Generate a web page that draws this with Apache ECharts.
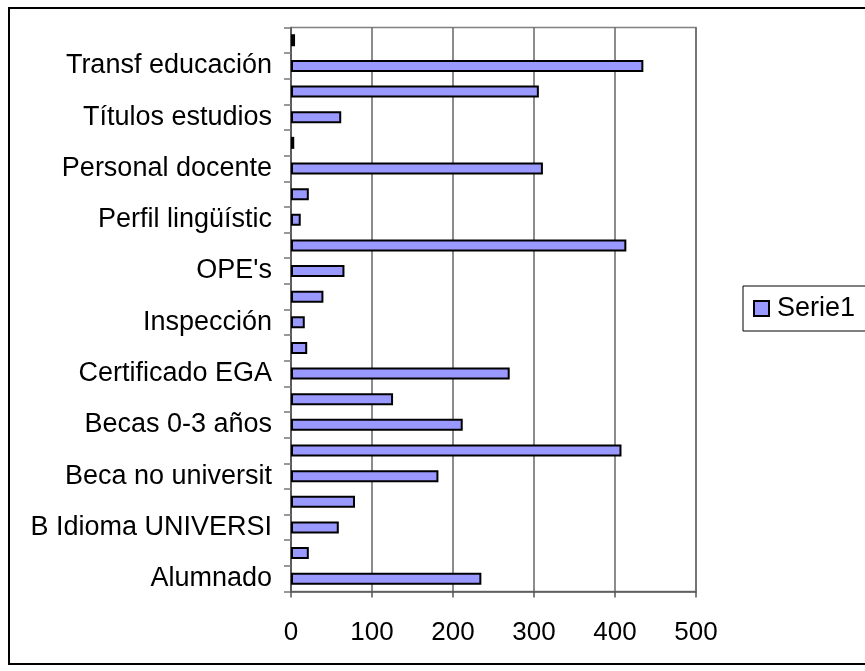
<!DOCTYPE html>
<html>
<head>
<meta charset="utf-8">
<script src="https://cdn.jsdelivr.net/npm/echarts@6/dist/echarts.min.js"></script>
<style>html,body{margin:0;padding:0;background:#fff;}#c{width:865px;height:671px;}</style>
</head>
<body>
<div id="c"></div>
<script>
var categories = [
  "Alumnado", "Ayudas comedor", "B Idioma UNIVERSI", "Beca Erasmus",
  "Beca no universit", "Beca universitaria", "Becas 0-3 años", "Becas transporte",
  "Certificado EGA", "Centros educativos", "Inspección", "Matrícula",
  "OPE's", "Oposiciones", "Perfil lingüístic", "Permisos",
  "Personal docente", "Quejas", "Títulos estudios", "Transf centros",
  "Transf educación", "Otros"
];
var serie1 = [235, 22, 59, 79, 182, 408, 212, 126, 270, 20, 17, 40, 66, 414, 12, 22, 311, 4, 62, 306, 435, 5];
var xTicks = [0, 100, 200, 300, 400, 500];
var seriesName = "Serie1";

var chart = echarts.init(document.getElementById('c'), null, {renderer: 'canvas'});
var FONT = "'Liberation Sans', Arial, sans-serif";
chart.setOption({
  animation: false,
  backgroundColor: '#fff',
  graphic: [{
    type: 'rect', shape: {x: 9, y: 8, width: 900, height: 656},
    style: {fill: 'none', stroke: '#000', lineWidth: 2}, z: -1
  }],
  grid: {left: 291, top: 27.5, width: 405, height: 564, show: true, borderColor: '#808080', borderWidth: 1.5, backgroundColor: '#fff'},
  legend: {
    data: [seriesName], left: 743, top: 286, orient: 'vertical',
    padding: [9, 40, 9, 10], borderColor: '#000', borderWidth: 1,
    itemWidth: 15, itemHeight: 15, itemGap: 0,
    textStyle: {fontFamily: FONT, fontSize: 27, color: '#000', padding: [0, 0, 0, 3]},
    icon: 'rect'
  },
  xAxis: {
    type: 'value', min: xTicks[0], max: xTicks[xTicks.length - 1], interval: 100,
    axisLine: {show: true, lineStyle: {color: '#555', width: 1.5}},
    axisTick: {show: true, length: 6, lineStyle: {color: '#555', width: 1.5}},
    axisLabel: {fontFamily: FONT, fontSize: 26, color: '#000', margin: 28},
    splitLine: {show: true, lineStyle: {color: '#666', width: 1.5}}
  },
  yAxis: {
    type: 'category', data: categories,
    axisLine: {show: true, lineStyle: {color: '#555', width: 1.5}},
    axisTick: {show: true, length: 7, interval: 0, lineStyle: {color: '#777', width: 1.5}},
    axisLabel: {interval: 1, fontFamily: FONT, fontSize: 27, color: '#000', margin: 19},
    splitLine: {show: false}
  },
  series: [{
    name: seriesName, type: 'bar', data: serie1, barWidth: 12,
    itemStyle: {color: '#9999FF', borderColor: '#000', borderWidth: 2}
  }]
});
</script>
</body>
</html>
